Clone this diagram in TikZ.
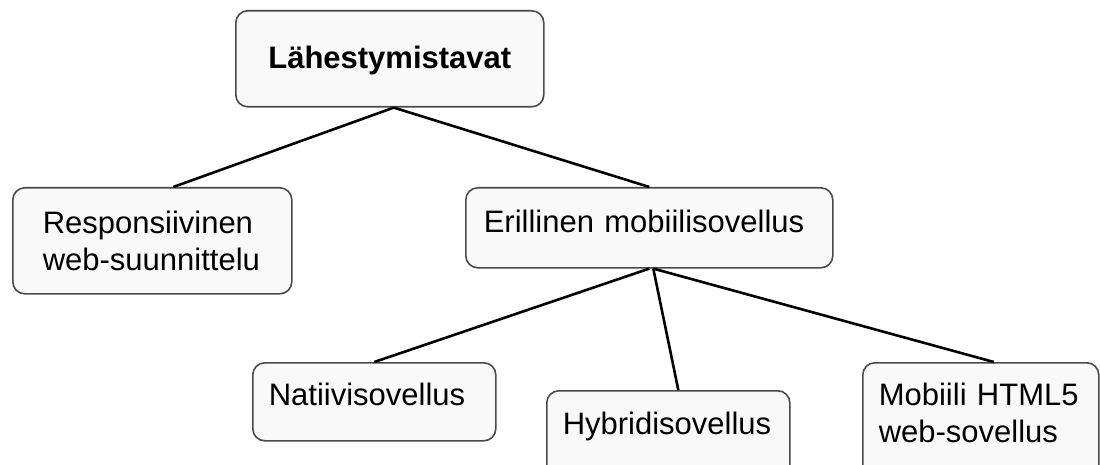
\documentclass[tikz,border=0pt]{standalone}
\usepackage{fontspec}
\setmainfont{Liberation Sans}
\usepackage{tikz}

\definecolor{boxfill}{HTML}{F9F9F9}
\definecolor{boxline}{HTML}{4A4A4A}

\begin{document}
\begin{tikzpicture}[x=1pt, y=-1pt,
    box/.style={draw=boxline, fill=boxfill, line width=1.6pt, rounded corners=12pt,
      anchor=north west, inner ysep=0pt, align=left,
      font=\fontsize{31}{36.5}\selectfont},
    link/.style={line width=2.6pt, black}]
  % Page
  \clip (0, 0) rectangle (1100, 465);
  \fill [white] (0, 0) rectangle (1100, 465);

  % Root
  \node [box, align=center, inner xsep=10pt, text width=288pt,
    text height=58pt, text depth=38pt] (root) at (235, 10) {\bfseries Lähestymistavat};

  % Second level
  \node [box, inner xsep=30pt, text width=219pt,
    text height=46pt, text depth=60pt] (resp) at (12, 187) {Responsiivinen\\web-suunnittelu};
  \node [box, inner xsep=18pt, text width=331pt,
    text height=45pt, text depth=35pt] (eril) at (465, 187) {Erillinen mobiilisovellus};

  % Third level
  \node [box, inner xsep=16pt, text width=211pt,
    text height=43pt, text depth=35pt] (nati) at (252, 362) {Natiivisovellus};
  \node [box, inner xsep=16pt, text width=211pt,
    text height=44pt, text depth=60pt] (hybr) at (546, 390) {Hybridisovellus};
  \node [box, inner xsep=16pt, text width=204pt,
    text height=43pt, text depth=80pt] (mobi) at (862, 362) {Mobiili HTML5\\web-sovellus};

  % Links
  \draw [link] ([xshift=4pt]root.south) -- ([xshift=21pt]resp.north);
  \draw [link] ([xshift=4pt]root.south) -- (eril.north);
  \draw [link] (eril.south) -- (nati.north);
  \draw [link] ([xshift=4pt]eril.south) -- ([xshift=10pt]hybr.north);
  \draw [link] ([xshift=4pt]eril.south) -- ([xshift=13pt]mobi.north);
\end{tikzpicture}
\end{document}
